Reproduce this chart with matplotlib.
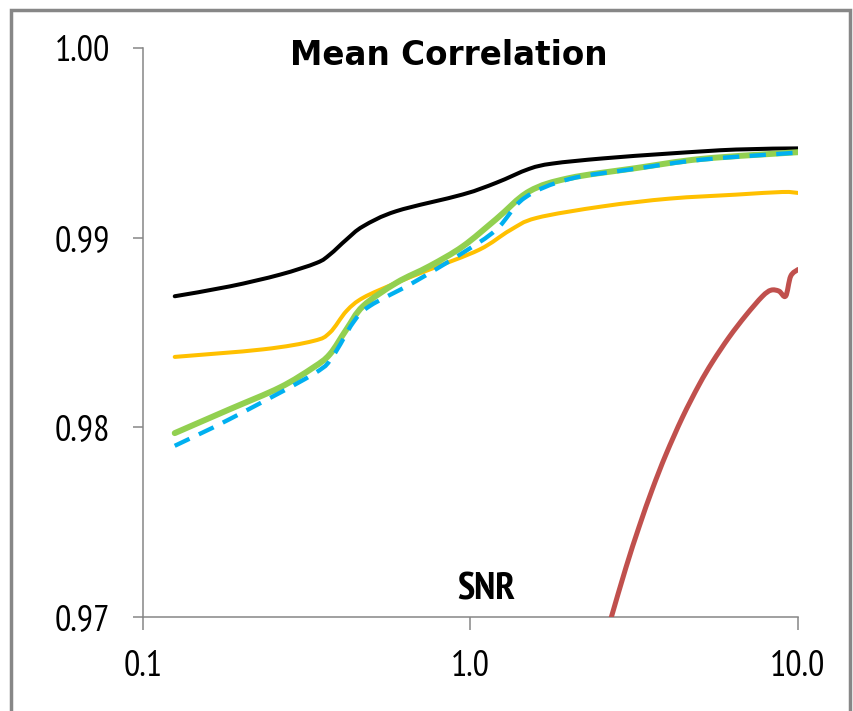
import numpy as np
import matplotlib
matplotlib.use("Agg")
import matplotlib.pyplot as plt
from matplotlib import font_manager as fm
from matplotlib.patches import Rectangle, PathPatch
from matplotlib.path import Path
from matplotlib.textpath import TextPath
from matplotlib.ticker import FixedLocator, FixedFormatter, NullLocator

# --- data -------------------------------------------------------------
title = "Mean Correlation"
xlabel = "SNR"

x_ticks = [0.1, 1.0, 10.0]
x_tick_labels = ["0.1", "1.0", "10.0"]
y_ticks = [0.97, 0.98, 0.99, 1.00]
y_tick_labels = ["0.97", "0.98", "0.99", "1.00"]

black_x = [0.125, 0.184, 0.262, 0.339, 0.372, 0.418, 0.47, 0.594, 0.947, 1.20, 1.51, 1.78, 2.53, 4.05, 6.47, 10.0]
black_y = [0.98692, 0.98744, 0.98806, 0.98868, 0.98912, 0.98991, 0.99061, 0.99141, 0.99229, 0.99291,
           0.99364, 0.99392, 0.99419, 0.99445, 0.99466, 0.99472]

yellow_x = [0.125, 0.233, 0.331, 0.372, 0.418, 0.47, 0.594, 0.75, 1.065, 1.32, 1.59, 2.53, 4.05, 6.46, 8.96, 10.0]
yellow_y = [0.98372, 0.98412, 0.98456, 0.98500, 0.98614, 0.98684, 0.98763, 0.98833, 0.98938, 0.99040,
            0.99105, 0.99166, 0.99207, 0.99228, 0.99242, 0.99237]

green_x = [0.125, 0.184, 0.262, 0.331, 0.372, 0.418, 0.47, 0.594, 0.75, 0.947, 1.20, 1.51, 2.00, 3.20, 5.11, 10.0]
green_y = [0.97970, 0.98096, 0.98211, 0.98316, 0.98386, 0.98517, 0.98640, 0.98763, 0.98851, 0.98955,
           0.99100, 0.99245, 0.99315, 0.99368, 0.99417, 0.99452]

blue_x = [0.125, 0.184, 0.331, 0.380, 0.438, 0.492, 0.667, 0.947, 1.20, 1.46, 2.00, 3.20, 5.11, 10.0]
blue_y = [0.97903, 0.98044, 0.98281, 0.98377, 0.98553, 0.98640, 0.98763, 0.98921, 0.99044, 0.99210,
          0.99310, 0.99365, 0.99413, 0.99450]

red_x = [2.64, 2.700, 2.983, 3.275, 3.596, 3.951, 4.440, 4.992, 5.479, 6.16, 6.93, 7.78, 8.27, 8.75,
         9.17, 9.50, 10.0]
red_y = [0.9695, 0.97007, 0.97261, 0.97478, 0.97677, 0.97857, 0.98054, 0.98226, 0.98345, 0.98476,
         0.98591, 0.98691, 0.98724, 0.98719, 0.98693, 0.98798, 0.98833]


# --- helpers ----------------------------------------------------------
def pick_family(candidates):
    for name in candidates:
        try:
            fm.findfont(fm.FontProperties(family=name), fallback_to_default=False)
            return name
        except ValueError:
            continue
    return "DejaVu Sans"


def smooth_path(xs, ys):
    """Smoothed (Catmull-Rom style Bezier) path through the points, built in log-x space."""
    u = np.log10(np.asarray(xs, float))
    v = np.asarray(ys, float)
    n = len(u)
    verts = [(u[0], v[0])]
    codes = [Path.MOVETO]
    for i in range(n - 1):
        i0, i2, i3 = max(i - 1, 0), i + 1, min(i + 2, n - 1)
        c1 = (u[i] + (u[i2] - u[i0]) / 6.0, v[i] + (v[i2] - v[i0]) / 6.0)
        c2 = (u[i2] - (u[i3] - u[i]) / 6.0, v[i2] - (v[i3] - v[i]) / 6.0)
        verts += [c1, c2, (u[i2], v[i2])]
        codes += [Path.CURVE4] * 3
    verts = np.array(verts)
    verts[:, 0] = 10.0 ** verts[:, 0]
    return Path(verts, codes)


def add_curve(ax, xs, ys, color, lw, zorder, dashes=None):
    patch = PathPatch(smooth_path(xs, ys), fill=False, edgecolor=color, linewidth=lw,
                      capstyle="round" if dashes is None else "butt", joinstyle="round",
                      zorder=zorder)
    if dashes is not None:
        patch.set_linestyle((0, dashes))
    ax.add_patch(patch)
    return patch


# --- figure -----------------------------------------------------------
W, H, DPI = 854, 711, 100
fig = plt.figure(figsize=(W / DPI, H / DPI), dpi=DPI)
fig.patch.set_facecolor("white")
renderer = fig.canvas.get_renderer()

narrow = pick_family(["Liberation Sans Narrow", "Arial Narrow", "PT Sans Narrow", "Roboto Condensed",
                      "Open Sans Condensed", "Barlow Semi Condensed", "Sofia Sans Semi Condensed",
                      "Source Sans 3", "DejaVu Sans"])
narrow_list = [narrow, "DejaVu Sans"]


def fit_size(text, weight, target_w, target_h, base=20.0):
    """Font size giving roughly the wanted advance width and ink height (pixels)."""
    t = fig.text(0, 0, text, family=narrow_list, fontsize=base, fontweight=weight)
    w = t.get_window_extent(renderer).width
    t.remove()
    tp = TextPath((0, 0), text, size=base,
                  prop=fm.FontProperties(family=narrow, weight=weight))
    h = tp.get_extents().height * DPI / 72.0
    return base * np.sqrt((target_w / w) * (target_h / h))


tick_size = fit_size("1.00", "normal", 58, 25)
snr_size = fit_size(xlabel, "bold", 64, 26)

ax = fig.add_axes([143 / W, 1 - 617 / H, (798 - 143) / W, (617 - 48.3) / H])
ax.set_xscale("log")

add_curve(ax, black_x, black_y, "#000000", 2.9, 3)
add_curve(ax, yellow_x, yellow_y, "#FFC000", 2.9, 3)
add_curve(ax, green_x, green_y, "#92D050", 4.3, 4)
add_curve(ax, blue_x, blue_y, "#00B0F0", 3.1, 5, dashes=(3.8, 2.4))
add_curve(ax, red_x, red_y, "#C0504D", 3.6, 3)

ax.set_xlim(0.1, 10.0)
ax.set_ylim(0.97, 1.00)

# axes styling
spine_color = "#868686"
for side in ("top", "right"):
    ax.spines[side].set_visible(False)
for side in ("left", "bottom"):
    ax.spines[side].set_color(spine_color)
    ax.spines[side].set_linewidth(1.1)

ax.xaxis.set_major_locator(FixedLocator(x_ticks))
ax.xaxis.set_major_formatter(FixedFormatter(x_tick_labels))
ax.xaxis.set_minor_locator(NullLocator())
ax.yaxis.set_major_locator(FixedLocator(y_ticks))
ax.yaxis.set_major_formatter(FixedFormatter(y_tick_labels))

ax.tick_params(axis="x", direction="out", length=9.4, width=1.1, color=spine_color, pad=14)
ax.tick_params(axis="y", direction="out", length=7.2, width=1.1, color=spine_color, pad=16.5)
for lab in ax.get_xticklabels() + ax.get_yticklabels():
    lab.set_fontfamily(narrow_list)
    lab.set_fontsize(tick_size)
    lab.set_color("#000000")

# title and axis label drawn inside the plotting area
fig.text(448.5 / W, 1 - 65 / H, title, ha="center", va="baseline",
         fontsize=23.5, fontweight="bold", family=["DejaVu Sans"])
fig.text(486 / W, 1 - 599 / H, xlabel, ha="center", va="baseline",
         fontsize=snr_size, fontweight="bold", family=narrow_list)

# outer chart frame
frame = Rectangle((11.5 / W, -0.05), (850.5 - 11.5) / W, 1.05 - 9.5 / H,
                  transform=fig.transFigure, fill=False, edgecolor="#878787",
                  linewidth=2.5, zorder=10)
fig.patches.append(frame)

fig.savefig("out.png", dpi=DPI)
